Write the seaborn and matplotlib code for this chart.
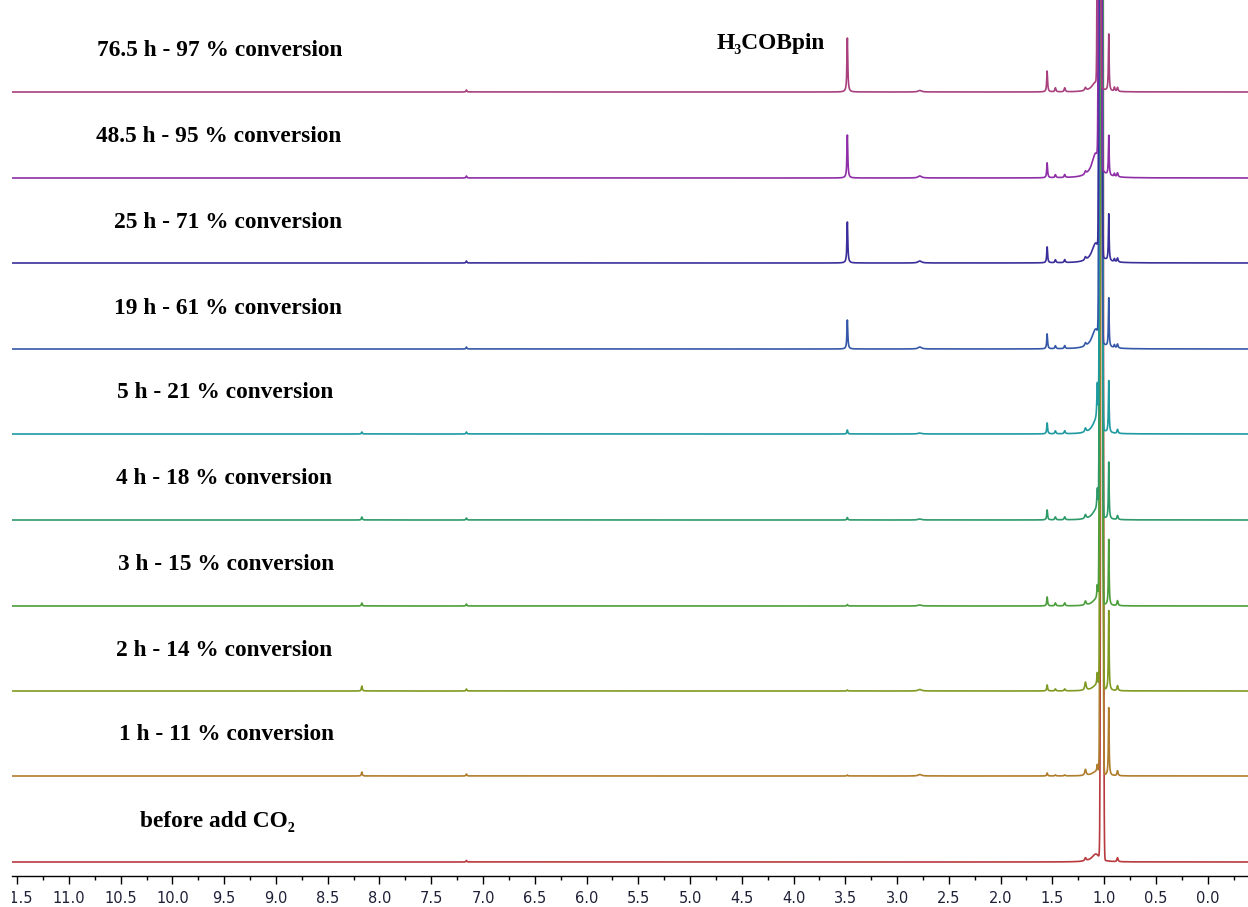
import numpy as np
import pandas as pd
import seaborn as sns
import matplotlib
matplotlib.use("Agg")
import matplotlib.pyplot as plt
from matplotlib.ticker import MultipleLocator, FormatStrFormatter
from matplotlib.transforms import Bbox, TransformedBbox

# Stacked 1H NMR spectra, listed from the bottom trace to the top trace
conditions = [
    "before add CO\u2082",
    "1 h - 11 % conversion",
    "2 h - 14 % conversion",
    "3 h - 15 % conversion",
    "4 h - 18 % conversion",
    "5 h - 21 % conversion",
    "19 h - 61 % conversion",
    "25 h - 71 % conversion",
    "48.5 h - 95 % conversion",
    "76.5 h - 97 % conversion",
]
colors = ["#b83a3e", "#b07d2c", "#7f9a22", "#4c9e3c", "#2e9a6a",
          "#1f9aa0", "#3558a8", "#3a2f9a", "#8e2fa8", "#a8407e"]

# Main (off-scale) resonance for each trace: shift (ppm), Gaussian width, height
main_ppm = [1.02, 1.025, 1.025, 1.03, 1.03, 1.03, 1.035, 1.035, 1.04, 1.05]
main_sigma = 0.0075
h_main = [3000, 3000, 3000, 3000, 3000, 3000, 3000, 3000, 3000, 3000]

# Lorentzian peaks: positions (ppm) and half-widths (ppm)
peak_ppm = [0.955, 1.065, 1.08, 3.48, 1.55, 1.47, 1.38, 1.18, 0.90, 0.87, 8.17, 7.16, 2.78]
peak_hw = [0.004, 0.006, 0.045, 0.005, 0.005, 0.006, 0.006, 0.008, 0.005, 0.006, 0.005, 0.005, 0.02]

# Peak heights for each trace (bottom -> top)
h_0955 = [0, 68, 80, 66, 57, 52, 49, 47, 40, 57]
h_1065 = [0, 8, 14, 16, 24, 41, 0, 0, 0, 0]
h_base = [8, 4, 5, 6, 9, 12, 20, 20, 25, 10]
h_meobpin = [0, 1, 1, 1.5, 2.5, 4, 29, 41, 43, 54]
h_1550 = [0, 3, 6, 9, 10, 11, 15, 16, 15, 21]
h_1470 = [0, 1, 2, 3, 3, 3, 3, 3, 3, 4]
h_1380 = [0, 1, 2, 3, 3, 3, 3, 3, 3, 4]
h_1180 = [3, 6, 8, 4, 4, 4, 3, 3, 3, 3]
h_0900 = [0, 0, 0, 0, 0, 0, 3, 3, 3, 4]
h_0870 = [4, 5, 5, 5, 4, 4, 4, 4, 4, 4]
h_8170 = [0, 4, 5, 3, 3, 2, 0, 0, 0, 0]
h_7160 = [1.5, 2, 2, 2, 2, 2, 2, 2, 2, 2]
h_2780 = [0, 1.5, 1.5, 1, 1, 1, 2, 2, 2, 1.5]

# Vertical stacking offsets and label placement
offsets = [14, 100, 185, 270, 356, 442, 527, 613, 698, 784]
label_ppm = [9.57, 9.48, 9.50, 9.48, 9.50, 9.49, 9.46, 9.46, 9.55, 9.54]
label_rise = 41

heights = [h_0955, h_1065, h_base, h_meobpin, h_1550, h_1470, h_1380,
           h_1180, h_0900, h_0870, h_8170, h_7160, h_2780]

ppm = np.arange(-0.45, 11.65, 0.0012)

frames = []
for i, name in enumerate(conditions):
    y = h_main[i] * np.exp(-0.5 * ((ppm - main_ppm[i]) / main_sigma) ** 2)
    for pos, hw, h in zip(peak_ppm, peak_hw, heights):
        if h[i]:
            y += h[i] / (1.0 + ((ppm - pos) / hw) ** 2)
    frames.append(pd.DataFrame({"ppm": ppm, "intensity": y + offsets[i], "trace": name}))
data = pd.concat(frames, ignore_index=True)

sns.set_theme(style="white")
plt.rcParams["font.family"] = ["DejaVu Sans"]

fig = plt.figure(figsize=(12.48, 9.07), dpi=100)
ax = fig.add_axes([12 / 1248, 31 / 907, 1 - 12 / 1248, 1 - 31 / 907])

sns.lineplot(data=data, x="ppm", y="intensity", hue="trace", hue_order=conditions,
             palette=colors, estimator=None, sort=False, legend=False,
             linewidth=1.2, ax=ax)

ax.set_xlim(11.55, -0.39)
ax.set_ylim(0, 876)
ax.set_xlabel("")
ax.set_ylabel("")
ax.set_yticks([])
for side in ("top", "left", "right"):
    ax.spines[side].set_visible(False)
ax.spines["bottom"].set_color("black")
ax.spines["bottom"].set_linewidth(1.0)

ax.xaxis.set_major_locator(MultipleLocator(0.5))
ax.xaxis.set_minor_locator(MultipleLocator(0.25))
ax.xaxis.set_major_formatter(FormatStrFormatter("%.1f"))
ax.tick_params(axis="x", which="major", direction="out", length=6, width=1,
               color="black", labelsize=10.5, labelcolor="#1e2038", pad=5, bottom=True)
ax.tick_params(axis="x", which="minor", direction="out", length=3, width=1,
               color="black", bottom=True)

serif = ["Liberation Serif", "DejaVu Serif"]
for i, name in enumerate(conditions):
    ax.text(label_ppm[i], offsets[i] + label_rise, name, ha="center", va="center",
            fontsize=16.8, fontweight="bold", family=serif, color="black")

ax.text(4.22, 833, "H\u2083COBpin", ha="center", va="center",
        fontsize=16.8, fontweight="bold", family=serif, color="black")

# tick labels are cut at the left edge of the plotting area
fig.canvas.draw()
clip = TransformedBbox(Bbox([[12 / 1248, 0], [1, 1]]), fig.transFigure)
for lab in ax.get_xticklabels():
    lab.set_clip_box(clip)
    lab.set_clip_on(True)

fig.savefig("out.png", dpi=100)
